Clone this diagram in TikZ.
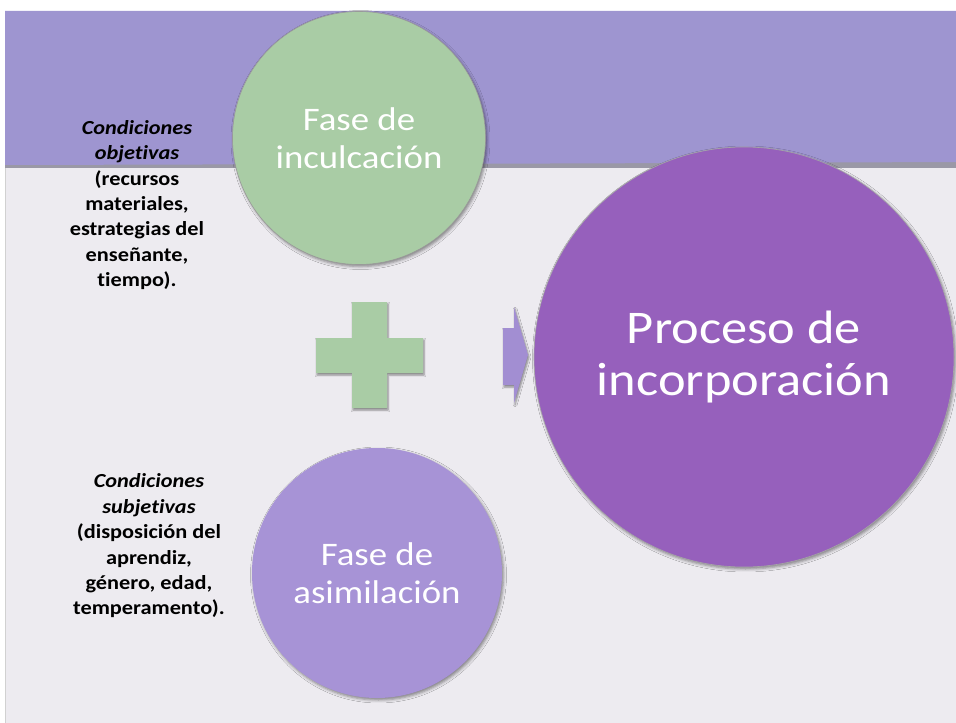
\documentclass[tikz,border=0pt]{standalone}
\usepackage{fontspec}
\setmainfont[Ligatures=NoCommon]{Carlito}
\newfontfamily\slidefont[FakeStretch=1.12, Ligatures=NoCommon]{Carlito}
\usetikzlibrary{shadows.blur}

\definecolor{paper}{HTML}{EDEBF0}
\definecolor{band}{HTML}{9E95D0}
\definecolor{bandedge}{HTML}{9A98A6}
\definecolor{leafgreen}{HTML}{A9CCA5}
\definecolor{lilac}{HTML}{A793D6}
\definecolor{plum}{HTML}{9660BC}
\definecolor{arrowlilac}{HTML}{A28ED2}

\tikzset{
  phase/.style={circle, inner sep=0pt, align=center, text=white,
    font=\slidefont\fontsize{33}{38}\selectfont,
    blur shadow={shadow xshift=1.5pt, shadow yshift=-2pt,
      shadow blur radius=3pt, shadow opacity=45}},
  note/.style={align=center, inner sep=0pt, text=black,
    font=\slidefont\bfseries\fontsize{20}{25.5}\selectfont},
  softshape/.style={blur shadow={shadow xshift=1pt, shadow yshift=-2pt,
      shadow blur radius=2pt, shadow opacity=45}}
}

\begin{document}
\begin{tikzpicture}[x=1bp, y=-1bp]
  \useasboundingbox (0,0) rectangle (956,723);
  % page and slide background
  \fill[white] (0,0) rectangle (956,723);
  \fill[paper] (5,11) rectangle (956,723);
  \draw[black!18, line width=0.8bp] (5,11) -- (5,723);
  % header band with its shaded lower edge
  \fill[bandedge] (5,160) rectangle (956,168);
  \fill[band] (5,11) -- (956,11) -- (956,162) -- (700,163) -- (400,164) -- (5,165) -- cycle;

  % plus sign
  \fill[leafgreen, softshape]
    (352,302) -- (387,302) -- (387,338) -- (423,338) -- (423,373) -- (387,373)
    -- (387,408) -- (352,408) -- (352,373) -- (316,373) -- (316,338) -- (352,338) -- cycle;

  % arrow towards the process circle
  \fill[arrowlilac, softshape]
    (503,328) -- (514,328) -- (514,307) -- (528,355) -- (514,403) -- (514,385) -- (503,385) -- cycle;

  % circles
  \node[phase, fill=leafgreen, draw=black!40, line width=0.6bp, minimum size=253bp]
    (inculc) at (359,138) {Fase de\\inculcación};
  \node[phase, fill=lilac, minimum size=250bp]
    (asim) at (377,573) {Fase de\\asimilación};
  \node[phase, fill=plum, draw=black!35, line width=0.6bp, minimum size=420bp,
    font=\slidefont\fontsize{47}{53}\selectfont]
    (proc) at (744,357) {Proceso de\\incorporación};

  % conditions
  \node[note] (obj) at (137,205)
    {\itshape Condiciones\\\itshape objetivas\\(recursos\\materiales,\\estrategias del\\enseñante,\\tiempo).};
  \node[note] (subj) at (149,546)
    {\itshape Condiciones\\\itshape subjetivas\\(disposición del\\aprendiz,\\género, edad,\\temperamento).};
\end{tikzpicture}
\end{document}
